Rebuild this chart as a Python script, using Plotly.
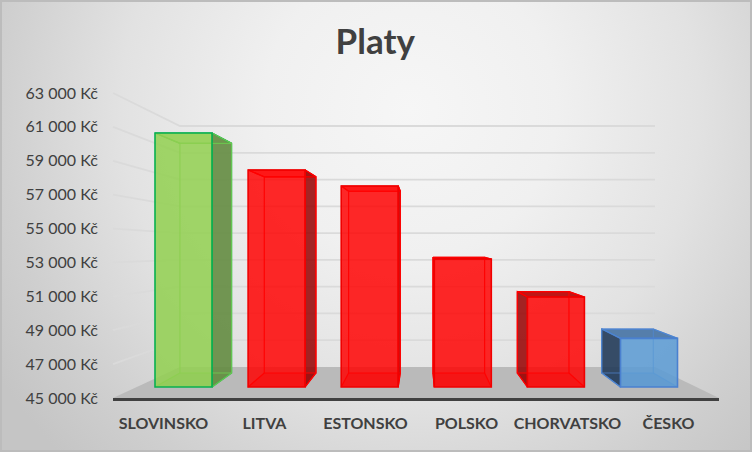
import base64
import plotly.graph_objects as go

categories = ["SLOVINSKO", "LITVA", "ESTONSKO", "POLSKO", "CHORVATSKO", "ČESKO"]
values = [61200, 58840, 57820, 53160, 50740, 48100]
tick_values = [45000, 47000, 49000, 51000, 53000, 55000, 57000, 59000, 61000, 63000]
tick_labels = ["45 000 Kč", "47 000 Kč", "49 000 Kč", "51 000 Kč", "53 000 Kč",
               "55 000 Kč", "57 000 Kč", "59 000 Kč", "61 000 Kč", "63 000 Kč"]

W, H = 752, 452
BASE = tick_values[0]
BAR_W = 57 / 93.1

# plane of the bars' front faces (hidden axes x2 / y2 span the whole figure)
def u_of(px): return (px - 183.5) / 93.1
def px_of(u): return 183.5 + 93.1 * u
def v_of(py): return BASE + (387 - py) / 0.01568
def py_of(v): return 387 - (v - BASE) * 0.01568
def back(px, py): return 39.5 + 0.906 * px, 241 + 0.904 * (py - 241)

# walls: value -> screen on the axis plane and on the back wall
def front_wall_y(t): return 398 - (t - BASE) * 305 / 18000
def back_wall_y(t): return 367 - (t - BASE) * 241 / 18000

styles = {
    "green": dict(front="rgba(146,208,80,0.85)", edge="#08b050", inner="rgba(110,200,80,0.9)",
                  side="rgba(100,140,65,0.9)", top="rgba(130,195,70,0.6)", under="rgba(146,208,80,0.3)",
                  floor="rgba(100,160,60,0.25)"),
    "red": dict(front="rgba(255,0,0,0.84)", edge="#f00000", inner="rgba(255,0,0,0.95)",
                side="rgba(150,0,0,0.85)", top="rgba(185,0,0,0.9)", under="rgba(255,0,0,0.4)",
                floor="rgba(200,0,0,0.3)"),
    "blue": dict(front="rgba(91,155,213,0.85)", edge="#4a80d0", inner="rgba(80,135,210,0.7)",
                 side="rgba(35,60,90,0.9)", top="rgba(70,115,165,0.9)", under="rgba(91,155,213,0.4)",
                 floor="rgba(60,110,170,0.3)"),
}
bar_style = ["green", "red", "red", "red", "red", "blue"]

fig = go.Figure()

# invisible trace that activates the visible category / value axes
fig.add_trace(go.Scatter(x=categories, y=values, mode="markers", marker=dict(opacity=0),
                         xaxis="x", yaxis="y", showlegend=False, hoverinfo="skip"))

def poly(points, fill=None, line=None, width=0, closed=True):
    pts = list(points) + ([points[0]] if closed else [])
    fig.add_trace(go.Scatter(
        x=[None if p is None else u_of(p[0]) for p in pts],
        y=[None if p is None else v_of(p[1]) for p in pts],
        mode="lines", xaxis="x2", yaxis="y2", showlegend=False, hoverinfo="skip",
        fill="toself" if fill else None, fillcolor=fill,
        line=dict(color=line or "rgba(0,0,0,0)", width=width)))

# floor
poly([(113, front_wall_y(BASE)), (180, back_wall_y(BASE)), (655, back_wall_y(BASE)), (719, front_wall_y(BASE))],
     fill="#bababa")

# gridlines on the back and left walls
grid = []
for t in tick_values[1:]:
    grid += [(113, front_wall_y(t)), (180, back_wall_y(t)), (655, back_wall_y(t)), None]
poly(grid, line="#dadada", width=1.8, closed=False)

# depth faces of each bar, computed from its value
for i, (val, name) in enumerate(zip(values, bar_style)):
    s = styles[name]
    xl, xr = px_of(i - BAR_W / 2), px_of(i + BAR_W / 2)
    yt, yb = py_of(val), py_of(BASE)
    fl, ft, fr = (xl, yb), (xl, yt), (xr, yt)
    fb = (xr, yb)
    bl, bt, br, bb = back(*fl), back(*ft), back(*fr), back(*fb)
    poly([fl, bl, bb, fb], fill=s["floor"])
    poly([ft, bt, br, fr], fill=s["top"] if bt[1] < yt else s["under"], line=s["edge"], width=1.2)
    if bl[0] < xl:
        poly([ft, bt, bl, fl], fill=s["side"], line=s["edge"], width=1.2)
    if bb[0] > xr:
        poly([fr, br, bb, fb], fill=s["side"], line=s["edge"], width=1.2)
    poly([bt, br, bb, bl, bt, None, ft, bt, None, fr, br, None, fl, bl, None, fb, bb],
         line=s["inner"], width=1.2, closed=False)

# front faces (on their own subplot so that they sit above the depth faces)
fig.add_trace(go.Bar(
    x=list(range(len(values))), y=[v - BASE for v in values], base=BASE, width=BAR_W,
    xaxis="x3", yaxis="y3", showlegend=False, hoverinfo="skip",
    marker=dict(color=[styles[n]["front"] for n in bar_style],
                line=dict(color=[styles[n]["edge"] for n in bar_style], width=1.6))))

svg = (f'<svg xmlns="http://www.w3.org/2000/svg" width="{W}" height="{H}">'
       '<defs><radialGradient id="g" gradientUnits="userSpaceOnUse" cx="410" cy="110" r="490">'
       '<stop offset="0" stop-color="#f6f6f6"/><stop offset="0.3" stop-color="#f0f0f0"/>'
       '<stop offset="0.59" stop-color="#e2e2e2"/>'
       '<stop offset="0.84" stop-color="#cfcfcf"/><stop offset="1" stop-color="#c5c5c5"/>'
       f'</radialGradient></defs><rect width="{W}" height="{H}" fill="url(#g)"/></svg>')
bg = "data:image/svg+xml;base64," + base64.b64encode(svg.encode()).decode()

text = "#404040"
hidden = dict(domain=[0, 1], visible=False, automargin=False)
fig.update_layout(
    width=W, height=H, autosize=False, margin=dict(l=0, r=0, t=0, b=0),
    paper_bgcolor="#d8d8d8", plot_bgcolor="rgba(0,0,0,0)", showlegend=False, barmode="overlay",
    title=dict(text="<b>Platy</b>", x=0.499, xanchor="center", y=0.907, yanchor="middle",
               font=dict(family="Lato", size=35, color=text)),
    images=[dict(source=bg, xref="paper", yref="paper", x=0, y=1, sizex=1, sizey=1,
                 sizing="stretch", layer="below")],
    shapes=[dict(type="rect", xref="paper", yref="paper", x0=0, x1=1, y0=0, y1=1, layer="below",
                 line=dict(color="#bcbcbc", width=4))],
    xaxis=dict(domain=[113 / W, 719 / W], anchor="y", type="category", categoryorder="array",
               categoryarray=categories, range=[-0.5, 5.5], showgrid=False, zeroline=False,
               automargin=False, showline=True, linecolor="#404040", linewidth=2.5,
               ticks="outside", ticklen=9, tickcolor="rgba(0,0,0,0)",
               tickfont=dict(family="Lato", size=16, color=text, weight="bold")),
    yaxis=dict(domain=[1 - 398 / H, 1 - 93 / H], anchor="x", range=[tick_values[0], tick_values[-1]],
               tickvals=tick_values, ticktext=tick_labels, showgrid=False, zeroline=False, showline=False,
               automargin=False, ticks="outside", ticklen=11, tickcolor="rgba(0,0,0,0)",
               tickfont=dict(family="Lato", size=16, color=text)),
    xaxis2=dict(anchor="y2", range=[u_of(0), u_of(W)], **hidden),
    yaxis2=dict(anchor="x2", range=[v_of(H), v_of(0)], **hidden),
    xaxis3=dict(anchor="y3", range=[u_of(0), u_of(W)], **hidden),
    yaxis3=dict(anchor="x3", range=[v_of(H), v_of(0)], **hidden),
)

fig.write_html("out.html", config=dict(displayModeBar=False),
               post_script="document.body.style.margin='0';document.documentElement.style.overflow='hidden';")
